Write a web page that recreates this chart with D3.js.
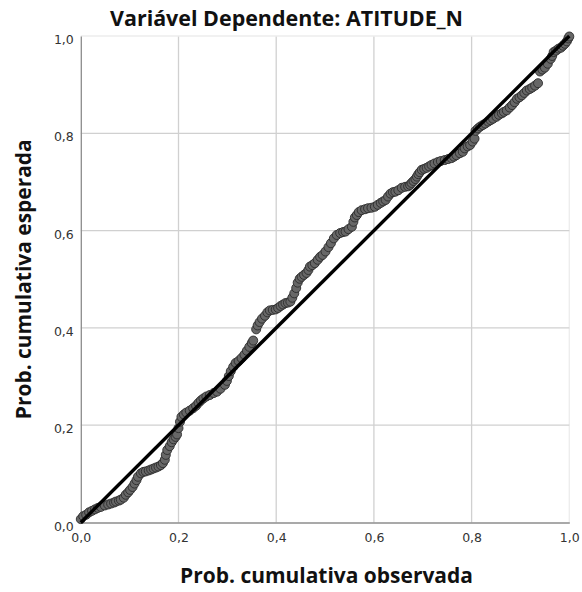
<!DOCTYPE html>
<html><head><meta charset="utf-8">
<script src="https://cdn.jsdelivr.net/npm/d3@7"></script>
<style>body{margin:0;background:#fff}svg{display:block}</style>
</head><body>
<svg id="c" width="582" height="592"></svg>
<script>
const chartTitle = "Variável Dependente: ATITUDE_N";
const xTitle = "Prob. cumulativa observada";
const yTitle = "Prob. cumulativa esperada";
const tickValues = [0, 0.2, 0.4, 0.6, 0.8, 1.0];
const tickLabels = ["0,0", "0,2", "0,4", "0,6", "0,8", "1,0"];
const obsProb = [0.000,0.005,0.011,0.017,0.023,0.029,0.035,0.041,0.049,0.056,0.062,0.068,0.072,0.078,0.082,0.088,0.092,0.097,0.101,0.106,0.110,0.114,0.117,0.123,0.128,0.133,0.139,0.144,0.149,0.154,0.159,0.164,0.168,0.172,0.174,0.177,0.182,0.186,0.190,0.194,0.197,0.200,0.203,0.206,0.211,0.216,0.223,0.230,0.236,0.241,0.246,0.251,0.257,0.264,0.272,0.279,0.286,0.295,0.299,0.303,0.307,0.312,0.317,0.323,0.329,0.335,0.340,0.345,0.350,0.353,0.359,0.362,0.366,0.371,0.377,0.382,0.387,0.393,0.399,0.404,0.409,0.414,0.419,0.424,0.429,0.433,0.437,0.441,0.444,0.448,0.452,0.457,0.462,0.466,0.469,0.474,0.479,0.485,0.490,0.495,0.501,0.507,0.512,0.518,0.524,0.531,0.537,0.542,0.548,0.555,0.558,0.561,0.565,0.569,0.575,0.582,0.588,0.595,0.602,0.608,0.614,0.619,0.624,0.629,0.634,0.639,0.644,0.650,0.657,0.664,0.670,0.674,0.677,0.681,0.685,0.688,0.691,0.694,0.698,0.703,0.708,0.713,0.718,0.724,0.731,0.737,0.745,0.752,0.759,0.764,0.769,0.776,0.782,0.786,0.792,0.797,0.802,0.806,0.808,0.813,0.818,0.823,0.828,0.834,0.839,0.844,0.851,0.856,0.862,0.866,0.872,0.878,0.883,0.888,0.893,0.898,0.903,0.908,0.913,0.919,0.924,0.930,0.936,0.940,0.945,0.950,0.956,0.962,0.965,0.968,0.973,0.978,0.983,0.987,0.991,0.995,0.998,1.000];
const expProb = [0.007,0.013,0.016,0.021,0.024,0.027,0.030,0.032,0.035,0.037,0.039,0.041,0.043,0.045,0.047,0.051,0.057,0.062,0.067,0.073,0.080,0.087,0.094,0.101,0.104,0.105,0.107,0.109,0.111,0.113,0.115,0.118,0.122,0.129,0.139,0.149,0.157,0.165,0.171,0.176,0.181,0.194,0.207,0.217,0.222,0.226,0.230,0.235,0.240,0.246,0.251,0.255,0.259,0.262,0.266,0.269,0.275,0.283,0.291,0.301,0.311,0.320,0.328,0.332,0.338,0.345,0.353,0.361,0.369,0.374,0.397,0.405,0.412,0.419,0.425,0.432,0.436,0.437,0.438,0.441,0.445,0.448,0.451,0.452,0.454,0.462,0.471,0.482,0.493,0.501,0.505,0.509,0.513,0.519,0.526,0.529,0.533,0.540,0.546,0.550,0.557,0.566,0.574,0.584,0.591,0.595,0.597,0.598,0.603,0.608,0.618,0.627,0.632,0.638,0.642,0.644,0.646,0.647,0.649,0.653,0.657,0.660,0.663,0.670,0.676,0.679,0.680,0.683,0.688,0.690,0.691,0.694,0.698,0.702,0.706,0.711,0.716,0.720,0.725,0.727,0.729,0.732,0.735,0.738,0.741,0.743,0.745,0.747,0.749,0.752,0.755,0.759,0.762,0.769,0.773,0.776,0.783,0.789,0.805,0.810,0.814,0.817,0.820,0.824,0.827,0.830,0.834,0.838,0.841,0.844,0.847,0.853,0.858,0.864,0.871,0.874,0.878,0.883,0.888,0.891,0.894,0.898,0.903,0.927,0.931,0.935,0.943,0.953,0.959,0.967,0.970,0.974,0.976,0.980,0.984,0.989,0.995,0.999];
const refLine = [[0,0],[1,1]];

const svg = d3.select("#c");
const L = 80.8, R = 569.3, T = 36, B = 522.5;
const x = d3.scaleLinear().domain([0,1]).range([L,R]);
const y = d3.scaleLinear().domain([0,1]).range([B,T]);

// grid
const g = svg.append("g");
g.selectAll("line.gx").data(tickValues.slice(1)).join("line")
  .attr("x1", d=>x(d)).attr("x2", d=>x(d)).attr("y1", B).attr("y2", T)
  .attr("stroke", (d)=> d===1 ? "#ececec" : "#d0d0d0").attr("stroke-width", 1.3);
g.selectAll("line.gy").data(tickValues.slice(1)).join("line")
  .attr("y1", d=>y(d)).attr("y2", d=>y(d)).attr("x1", L).attr("x2", R)
  .attr("stroke", (d)=> d===1 ? "#ececec" : "#d0d0d0").attr("stroke-width", 1.3);

// axes
const xAxis = d3.axisBottom(x).tickValues(tickValues).tickFormat((d,i)=>tickLabels[i]).tickSize(0).tickPadding(11);
const yAxis = d3.axisLeft(y).tickValues(tickValues).tickFormat((d,i)=>tickLabels[i]).tickSize(0).tickPadding(7);
const gx = svg.append("g").attr("transform", `translate(0,${B})`).call(xAxis);
const gy = svg.append("g").attr("transform", `translate(${L},0)`).call(yAxis);
[gx, gy].forEach(a => {
  a.select(".domain").attr("stroke", "#8c8c8c").attr("stroke-width", 1.3);
  a.selectAll("text").attr("font-family", "DejaVu Sans").attr("font-size", 12.5).attr("fill", "#333");
});
gy.selectAll("text").attr("dy", "0.6em");

// points
svg.append("g").selectAll("circle").data(obsProb.map((v,i)=>[v, expProb[i]])).join("circle")
  .attr("cx", d=>x(d[0])).attr("cy", d=>y(d[1])).attr("r", 4.5)
  .attr("fill", "#676767").attr("stroke", "#2b2b2b").attr("stroke-width", 0.9);

// reference line
svg.append("line")
  .attr("x1", x(refLine[0][0])).attr("y1", y(refLine[0][1]))
  .attr("x2", x(refLine[1][0])).attr("y2", y(refLine[1][1]))
  .attr("stroke", "#000").attr("stroke-width", 3.4);

// titles
function fit(sel, w){ const n = sel.node(); const cur = n.getComputedTextLength(); const fs = parseFloat(sel.attr("font-size")); sel.attr("font-size", fs*w/cur); }
const t = svg.append("text").attr("x", 286.5).attr("y", 26).attr("text-anchor","middle")
  .attr("font-family","Open Sans").attr("font-weight","bold").attr("font-size",18).attr("fill","#111").text(chartTitle);
fit(t, 353);
const xt = svg.append("text").attr("x", 326.5).attr("y", 583).attr("text-anchor","middle")
  .attr("font-family","Open Sans").attr("font-weight","bold").attr("font-size",18).attr("fill","#111").text(xTitle);
fit(xt, 293);
const yt = svg.append("text").attr("transform", `translate(31,${(T+B)/2}) rotate(-90)`).attr("text-anchor","middle")
  .attr("font-family","Open Sans").attr("font-weight","bold").attr("font-size",18).attr("fill","#111").text(yTitle);
fit(yt, 280);
</script>
</body></html>
